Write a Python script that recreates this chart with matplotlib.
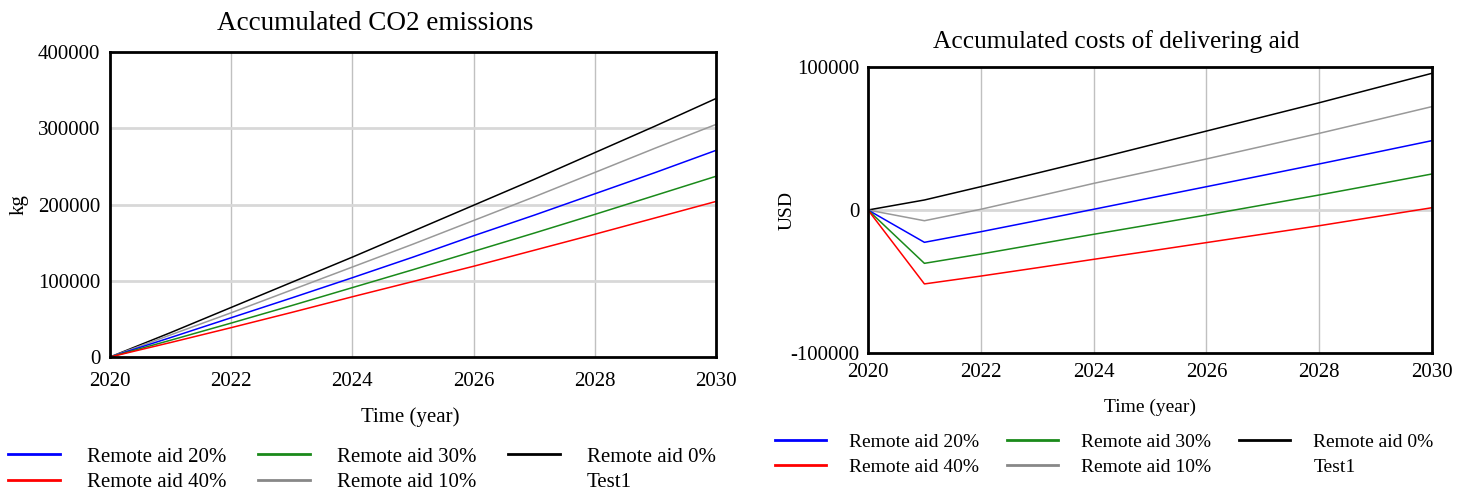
import matplotlib
matplotlib.use("Agg")
import matplotlib.pyplot as plt
from matplotlib.lines import Line2D

plt.rcParams['font.family'] = ['Liberation Serif', 'DejaVu Serif']
plt.rcParams['axes.unicode_minus'] = False

years = [2020, 2021, 2022, 2023, 2024, 2025, 2026, 2027, 2028, 2029, 2030]

# Accumulated CO2 emissions (kg)
co2_remote0 = [0, 32000, 65000, 98000, 131000, 165000, 199000, 233000, 268000, 303000, 339000]
co2_remote10 = [0, 29000, 58000, 88000, 118000, 148000, 179000, 210000, 242000, 274000, 305000]
co2_remote20 = [0, 25500, 51500, 77500, 104000, 131000, 159000, 186000, 214000, 242000, 271000]
co2_remote30 = [0, 22000, 44500, 67500, 91000, 114500, 138500, 162500, 187000, 212000, 237000]
co2_remote40 = [0, 19000, 38500, 58500, 79000, 99000, 119000, 140000, 161000, 182500, 204000]

# Accumulated costs of delivering aid (USD)
cost_remote0 = [0, 7000, 16300, 25800, 35400, 45300, 55200, 65100, 75000, 85300, 95600]
cost_remote10 = [0, -7500, 500, 9500, 18600, 27100, 35700, 44600, 53600, 62900, 72300]
cost_remote20 = [0, -22600, -15200, -7400, 500, 8400, 16300, 24200, 32200, 40300, 48500]
cost_remote30 = [0, -37300, -30800, -23900, -17000, -10300, -3500, 3500, 10500, 17800, 25200]
cost_remote40 = [0, -51700, -46200, -40400, -34500, -28700, -22800, -16900, -11000, -4700, 1600]

labels = ["Remote aid 20%", "Remote aid 40%", "Remote aid 30%", "Remote aid 10%", "Remote aid 0%", "Test1"]
colors = {"Remote aid 0%": "black", "Remote aid 10%": "#999999", "Remote aid 20%": "blue",
          "Remote aid 30%": "#1a8a1a", "Remote aid 40%": "red"}

co2 = {"Remote aid 0%": co2_remote0, "Remote aid 10%": co2_remote10, "Remote aid 20%": co2_remote20,
       "Remote aid 30%": co2_remote30, "Remote aid 40%": co2_remote40}
cost = {"Remote aid 0%": cost_remote0, "Remote aid 10%": cost_remote10, "Remote aid 20%": cost_remote20,
        "Remote aid 30%": cost_remote30, "Remote aid 40%": cost_remote40}

W, H = 1468, 493
fig = plt.figure(figsize=(W / 100, H / 100), dpi=100)

def ax_rect(l, t, r, b):
    return [l / W, 1 - b / H, (r - l) / W, (b - t) / H]

ax1 = fig.add_axes(ax_rect(110, 52, 716, 357))
ax2 = fig.add_axes(ax_rect(868, 67, 1432, 353))

def style(ax, xpad, ypad):
    for s in ax.spines.values():
        s.set_linewidth(2)
        s.set_color("black")
    ax.tick_params(length=0, labelsize=15)
    ax.tick_params(axis="x", pad=xpad)
    ax.tick_params(axis="y", pad=ypad)
    ax.set_xlim(2020, 2030)
    ax.set_xticks([2020, 2022, 2024, 2026, 2028, 2030])
    for x in [2022, 2024, 2026, 2028]:
        ax.axvline(x, color="#c0c0c0", lw=1, zorder=0)

style(ax1, 11, 7)
ax1.set_ylim(0, 400000)
ax1.set_yticks([0, 100000, 200000, 300000, 400000])
for y in [100000, 200000, 300000]:
    ax1.axhline(y, color="#d8d8d8", lw=2, zorder=0)
for name in ["Remote aid 0%", "Remote aid 10%", "Remote aid 20%", "Remote aid 30%", "Remote aid 40%"]:
    ax1.plot(years, co2[name], color=colors[name], lw=1.1)
ax1.set_ylabel("kg", fontsize=15)
ax1.yaxis.set_label_coords(-0.134, 0.5)
ax1.set_xlabel("Time (year)", fontsize=15, va="center")
ax1.xaxis.set_label_coords(0.495, -0.197)

style(ax2, 7, 6)
ax2.set_ylim(-100000, 100000)
ax2.set_yticks([-100000, 0, 100000])
ax2.axhline(0, color="#d8d8d8", lw=2, zorder=0)
for name in ["Remote aid 0%", "Remote aid 10%", "Remote aid 20%", "Remote aid 30%", "Remote aid 40%"]:
    ax2.plot(years, cost[name], color=colors[name], lw=1.1)
ax2.set_ylabel("USD", fontsize=14)
ax2.yaxis.set_label_coords(-0.128, 0.5)
ax2.set_xlabel("Time (year)", fontsize=14, va="center")
ax2.xaxis.set_label_coords(0.5, -0.189)

fig.text(375 / W, 1 - 24 / H, "Accumulated CO2 emissions", ha="center", va="center", fontsize=19.5)
fig.text(1116 / W, 1 - 42 / H, "Accumulated costs of delivering aid", ha="center", va="center", fontsize=18.3)

def handles():
    hs = []
    for lab in labels:
        if lab == "Test1":
            hs.append(Line2D([], [], color="none", lw=2))
        else:
            c = colors[lab]
            if lab == "Remote aid 10%":
                c = "#888888"
            hs.append(Line2D([], [], color=c, lw=2))
    return hs

fig.legend(handles(), labels, ncol=3, loc="upper left", bbox_to_anchor=(8 / W, 1 - 447 / H),
           frameon=False, fontsize=15, handlelength=2.5, handletextpad=1.3, columnspacing=1.5,
           labelspacing=0.3, borderaxespad=0, borderpad=0)
fig.legend(handles(), labels, ncol=3, loc="upper left", bbox_to_anchor=(775 / W, 1 - 433 / H),
           frameon=False, fontsize=14, handlelength=2.6, handletextpad=1.2, columnspacing=1.45,
           labelspacing=0.38, borderaxespad=0, borderpad=0)

fig.savefig("out.png", dpi=100)
